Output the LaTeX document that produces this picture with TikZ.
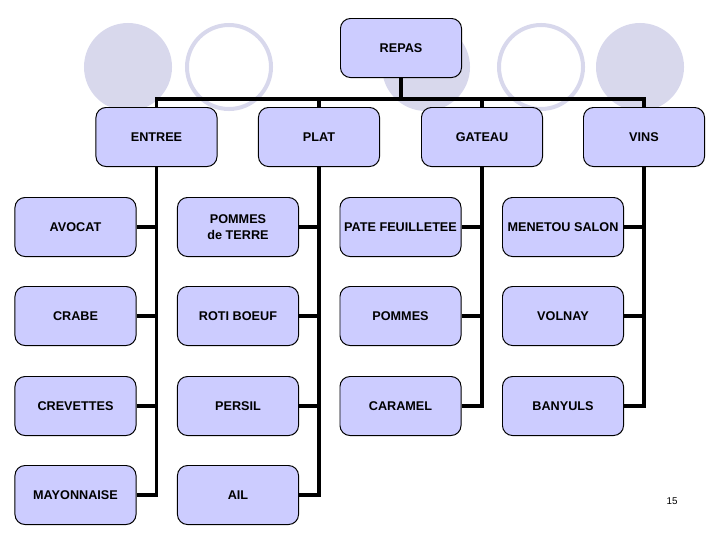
\documentclass[tikz,border=0pt]{standalone}
\usepackage{fontspec}
\setmainfont{Liberation Sans}
\definecolor{boxfill}{RGB}{204,204,255}
\definecolor{deco}{RGB}{216,216,236}
\begin{document}
\begin{tikzpicture}[x=0.025cm,y=-0.025cm,
  box/.style={draw=black, line width=0.7pt, fill=boxfill, rounded corners=0.25cm,
    minimum width=3.025cm, minimum height=1.475cm, align=center,
    font=\fontsize{9}{11.4}\selectfont\bfseries, inner sep=1pt},
  conn/.style={draw=black, line width=2.4pt},
  disc/.style={fill=deco, draw=none},
  ring/.style={draw=deco, line width=0.1cm, fill=none}]
\useasboundingbox (0,0) rectangle (720,540);
% decorative circles
\fill[disc] (128,67) circle (1.1cm);
\draw[ring] (229,67) circle (1.05cm);
\fill[disc] (426,67) circle (1.1cm);
\draw[ring] (541,67) circle (1.05cm);
\fill[disc] (640,67) circle (1.1cm);
% nodes
\node[box] (repas) at (401,48) {REPAS};
\node[box] (entree) at (156.5,137) {ENTREE};
\node[box] (plat) at (319,137) {PLAT};
\node[box] (gateau) at (482,137) {GATEAU};
\node[box] (vins) at (644,137) {VINS};
\node[box] (avocat) at (75.5,227) {AVOCAT};
\node[box] (crabe) at (75.5,316) {CRABE};
\node[box] (crevettes) at (75.5,406) {CREVETTES};
\node[box] (mayo) at (75.5,495) {MAYONNAISE};
\node[box] (pdt) at (238,227) {POMMES\\de TERRE};
\node[box] (roti) at (238,316) {ROTI BOEUF};
\node[box] (persil) at (238,406) {PERSIL};
\node[box] (ail) at (238,495) {AIL};
\node[box] (pate) at (400.5,227) {PATE FEUILLETEE};
\node[box] (pommes) at (400.5,316) {POMMES};
\node[box] (caramel) at (400.5,406) {CARAMEL};
\node[box] (menetou) at (563,227) {MENETOU SALON};
\node[box] (volnay) at (563,316) {VOLNAY};
\node[box] (banyuls) at (563,406) {BANYULS};
\node[font=\fontsize{7}{8}\selectfont] (page) at (672,501) {15};
% connectors
\coordinate (bus) at (401,99);
\draw[conn] (repas.south) -- (bus);
\draw[conn] (entree.north) |- (bus);
\draw[conn] (plat.north) |- (bus);
\draw[conn] (gateau.north) |- (bus);
\draw[conn] (vins.north) |- (bus);
\foreach \c in {avocat,crabe,crevettes,mayo} \draw[conn] (\c.east) -| (entree.south);
\foreach \c in {pdt,roti,persil,ail} \draw[conn] (\c.east) -| (plat.south);
\foreach \c in {pate,pommes,caramel} \draw[conn] (\c.east) -| (gateau.south);
\foreach \c in {menetou,volnay,banyuls} \draw[conn] (\c.east) -| (vins.south);
\end{tikzpicture}
\end{document}
